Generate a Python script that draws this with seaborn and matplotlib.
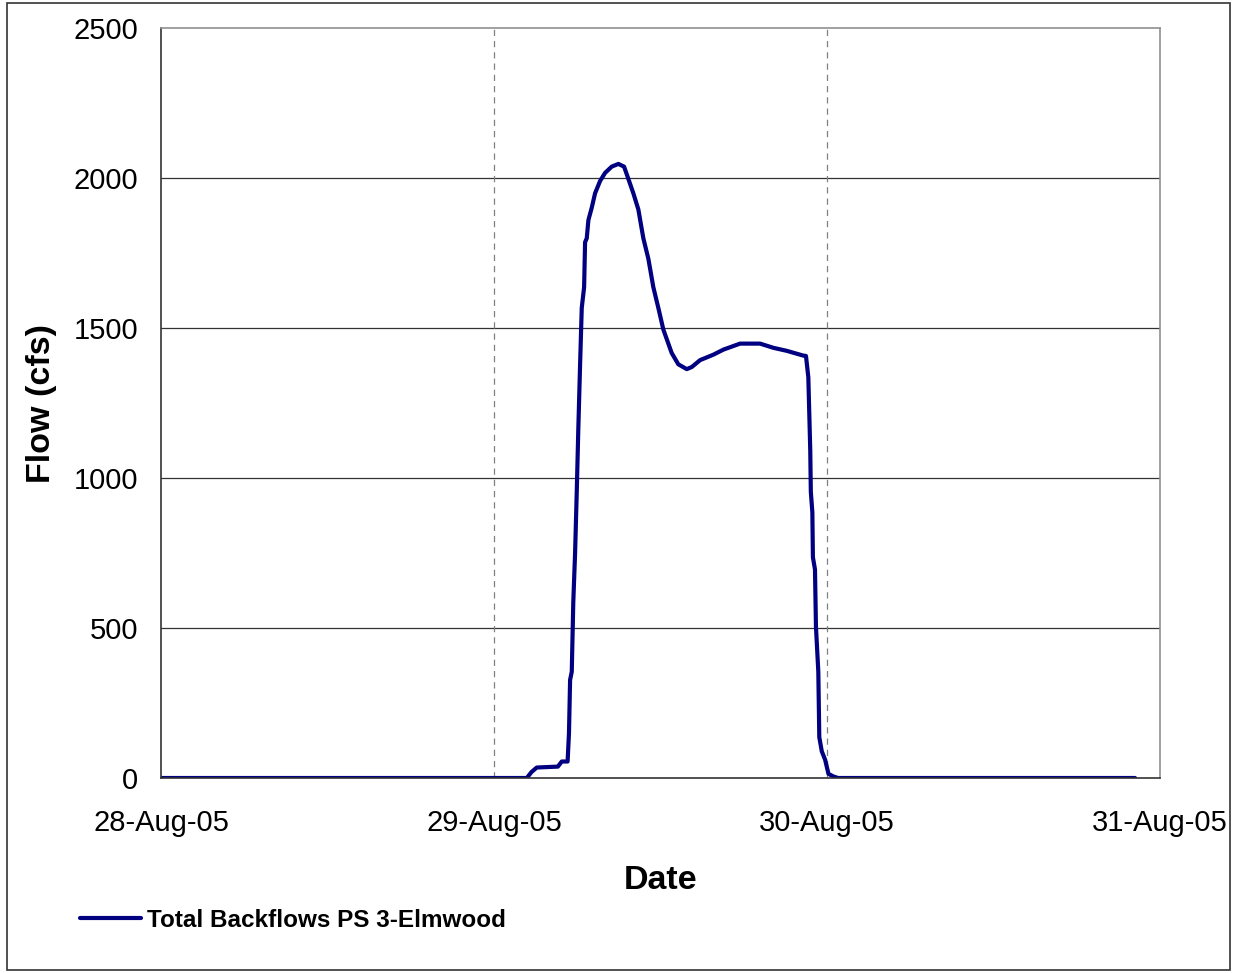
#!/usr/bin/env python3

import matplotlib
matplotlib.use("Agg")
import matplotlib.pyplot as plt
import matplotlib.dates as mdates
import seaborn as sns
import pandas
from matplotlib.patches import Rectangle

# hours after 28-Aug-05 00:00 and flow (cfs)
hours = [0.0, 26.36, 26.7, 27.08, 28.6, 28.88, 29.3, 29.4, 29.48, 29.6,
         29.71, 29.84, 29.96, 30.07, 30.2, 30.32, 30.49, 30.56, 30.68, 30.8,
         31.04, 31.28, 31.64, 32.0, 32.48, 32.96, 33.37, 33.68, 34.04, 34.4,
         34.76, 35.12, 35.48, 35.84, 36.2, 36.8, 37.28, 37.89, 38.25, 38.85,
         39.8, 40.53, 41.73, 43.17, 44.13, 45.09, 46.29, 46.48, 46.65, 46.79,
         46.83, 46.94, 46.98, 47.13, 47.2, 47.37, 47.44, 47.62, 47.86, 48.1,
         48.46, 48.8, 70.2]
flow = [0, 0, 20, 35, 38, 55, 55, 150, 327, 354,
        586, 750, 954, 1159, 1377, 1567, 1636, 1786, 1799, 1860,
        1901, 1949, 1990, 2017, 2038, 2047, 2038, 1997, 1949, 1895,
        1799, 1731, 1636, 1567, 1495, 1417, 1379, 1363, 1370, 1393,
        1411, 1428, 1448, 1448, 1434, 1424, 1408, 1407, 1336, 1090,
        954, 886, 736, 695, 504, 354, 136, 89, 61, 14,
        5, 0, 0]
series_name = "Total Backflows PS 3-Elmwood"
day_ticks = ["2005-08-28", "2005-08-29", "2005-08-30", "2005-08-31"]
y_ticks = [0, 500, 1000, 1500, 2000, 2500]

sns.set_style("white")
plt.rcParams["font.family"] = ["Liberation Sans", "DejaVu Sans"]
plt.rcParams["text.color"] = "black"
plt.rcParams["axes.labelcolor"] = "black"
plt.rcParams["xtick.color"] = "black"
plt.rcParams["ytick.color"] = "black"

start = pandas.Timestamp("2005-08-28 00:00")
df = pandas.DataFrame({
    "Date": [start + pandas.Timedelta(hours=h) for h in hours],
    "Flow": flow,
    "series": series_name,
})

fig = plt.figure(figsize=(12.37, 9.73), dpi=100)
ax = fig.add_axes([0.1302, 0.2004, 0.8076, 0.7708])

sns.lineplot(data=df, x="Date", y="Flow", hue="series", palette=["#000080"],
             linewidth=3, ax=ax, legend=False)

ticks = [pandas.Timestamp(d) for d in day_ticks]
ax.set_xlim(ticks[0], ticks[-1])
ax.set_ylim(0, 2500)
ax.set_xticks(ticks)
ax.set_yticks(y_ticks)
ax.xaxis.set_major_formatter(mdates.DateFormatter("%d-%b-%y"))

ax.grid(False)
for v in y_ticks[1:-1]:
    ax.axhline(v, color="#333333", linewidth=0.9, zorder=0)
for t in ticks[1:-1]:
    ax.axvline(t, color="#808080", linewidth=0.9, linestyle=(0, (5, 4)), zorder=0)

ax.spines["left"].set_color("#333333")
ax.spines["bottom"].set_color("#333333")
ax.spines["top"].set_color("#909090")
ax.spines["right"].set_color("#909090")
for s in ax.spines.values():
    s.set_linewidth(1.2)

ax.tick_params(axis="both", direction="out", length=6.5, width=1,
               color="#333333", labelsize=21, labelcolor="black")
ax.tick_params(axis="x", pad=16)
ax.tick_params(axis="y", pad=10)

ax.set_xlabel("Date", fontsize=24.5, fontweight="bold", labelpad=20,
              color="black")
ax.set_ylabel("Flow (cfs)", fontsize=24.5, fontweight="bold", labelpad=12,
              color="black")

# legend below the plot
ax.plot([], [], color="#000080", linewidth=3, label=series_name)
leg = fig.legend(loc="center left", bbox_to_anchor=(0.047, 0.054), frameon=False,
                 prop={"weight": "bold", "size": 17.5}, handlelength=2.5,
                 handletextpad=0.25)
for txt in leg.get_texts():
    txt.set_color("black")

# outer chart border
fig.patches.append(Rectangle((0.0057, 0.003), 0.9887, 0.9939,
                             transform=fig.transFigure, fill=False,
                             edgecolor="#333333", linewidth=1.2))

plt.savefig("out.png", dpi=100)
plt.close()
